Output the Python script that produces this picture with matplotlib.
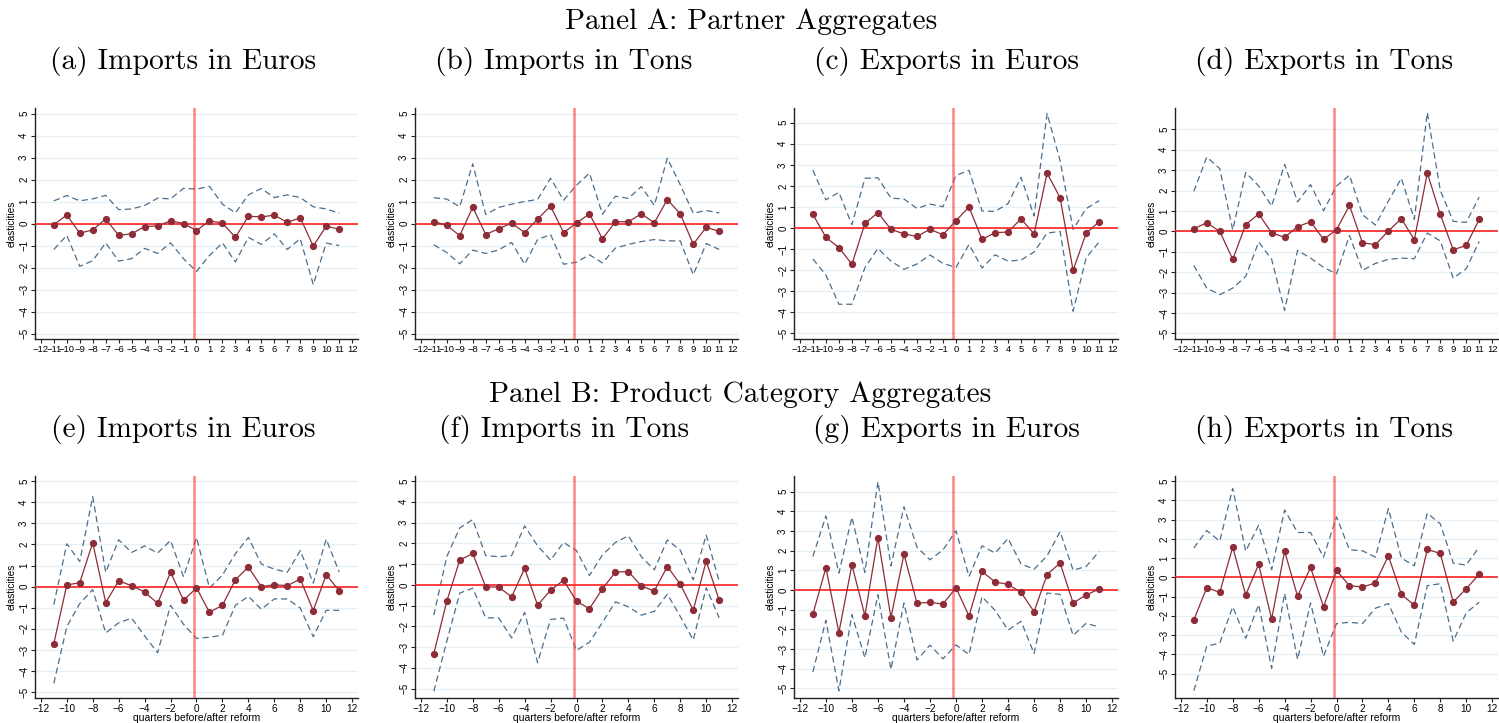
import numpy as np
import matplotlib
matplotlib.use("Agg")
from matplotlib import pyplot as plt

quarters = list(range(-11, 12))

# (a) partner aggregates, imports in euros
a_est = [-0.06, 0.39, -0.44, -0.29, 0.21, -0.54, -0.47, -0.14, -0.11, 0.12, 0.00, -0.32,
         0.12, 0.02, -0.63, 0.33, 0.30, 0.38, 0.05, 0.26, -1.03, -0.12, -0.26]
a_hi = [1.03, 1.27, 1.03, 1.12, 1.28, 0.63, 0.66, 0.82, 1.15, 1.12, 1.60, 1.56,
        1.69, 0.88, 0.48, 1.30, 1.59, 1.18, 1.30, 1.18, 0.76, 0.66, 0.47]
a_lo = [-1.18, -0.54, -1.95, -1.69, -0.88, -1.71, -1.60, -1.13, -1.36, -0.88, -1.60, -2.18,
        -1.45, -0.88, -1.75, -0.63, -0.95, -0.47, -1.18, -0.69, -2.78, -0.89, -1.00]

# (b) imports in tons
b_est = [0.09, -0.09, -0.55, 0.74, -0.50, -0.24, 0.02, -0.41, 0.20, 0.79, -0.41, 0.02,
         0.44, -0.70, 0.08, 0.08, 0.44, 0.03, 1.09, 0.44, -0.94, -0.17, -0.36]
b_hi = [1.17, 1.11, 0.76, 2.71, 0.41, 0.73, 0.88, 1.00, 1.09, 2.06, 1.06, 1.74,
        2.29, 0.42, 1.24, 1.14, 1.68, 0.82, 2.97, 1.76, 0.47, 0.59, 0.48]
b_lo = [-0.97, -1.32, -1.83, -1.21, -1.36, -1.20, -0.86, -1.85, -0.73, -0.50, -1.85, -1.76,
        -1.42, -1.79, -1.12, -0.95, -0.82, -0.73, -0.79, -0.79, -2.33, -0.91, -1.18]

# (c) exports in euros
c_est = [0.65, -0.44, -0.93, -1.72, 0.22, 0.73, -0.06, -0.28, -0.40, -0.06, -0.32, 0.35,
         1.00, -0.54, -0.22, -0.19, 0.44, -0.28, 2.61, 1.44, -2.01, -0.25, 0.30]
c_hi = [2.75, 1.34, 1.69, 0.16, 2.36, 2.39, 1.42, 1.38, 0.93, 1.14, 1.01, 2.50,
        2.74, 0.81, 0.79, 1.16, 2.41, 0.57, 5.44, 3.20, -0.06, 0.92, 1.30]
c_lo = [-1.47, -2.23, -3.62, -3.62, -1.88, -0.97, -1.57, -1.96, -1.71, -1.28, -1.68, -1.87,
        -0.78, -1.90, -1.27, -1.57, -1.52, -1.14, -0.24, -0.16, -3.95, -1.42, -0.66]

# (d) exports in tons
d_est = [0.13, 0.42, 0.00, -1.37, 0.33, 0.85, -0.07, -0.29, 0.23, 0.47, -0.39, 0.08,
         1.27, -0.56, -0.65, 0.02, 0.62, -0.41, 2.86, 0.83, -0.90, -0.69, 0.59]
d_hi = [1.96, 3.64, 3.07, 0.07, 2.88, 2.22, 1.24, 3.28, 1.44, 2.29, 1.01, 2.22,
        2.75, 0.82, 0.31, 1.49, 2.60, 0.59, 5.82, 2.01, 0.49, 0.44, 1.68]
d_lo = [-1.67, -2.78, -3.10, -2.78, -2.21, -0.52, -1.37, -3.87, -0.93, -1.31, -1.76, -2.08,
        -0.20, -1.91, -1.57, -1.37, -1.31, -1.34, -0.08, -0.47, -2.29, -1.83, -0.49]

# (e) product category aggregates, imports in euros
e_est = [-2.70, 0.08, 0.19, 2.08, -0.75, 0.27, 0.05, -0.25, -0.79, 0.68, -0.64, -0.06,
         -1.21, -0.88, 0.33, 0.93, 0.00, 0.09, 0.05, 0.36, -1.13, 0.57, -0.19]
e_hi = [-0.85, 2.03, 1.19, 4.26, 0.68, 2.22, 1.62, 1.93, 1.59, 2.19, 0.47, 2.33,
        -0.06, 0.55, 1.56, 2.33, 1.07, 0.83, 0.68, 1.71, 0.17, 2.25, 0.69]
e_lo = [-4.58, -1.90, -0.80, -0.14, -2.19, -1.71, -1.49, -2.33, -3.13, -0.88, -1.78, -2.45,
        -2.39, -2.30, -0.88, -0.46, -1.07, -0.58, -0.58, -1.01, -2.37, -1.12, -1.12]

# (f) imports in tons
f_est = [-3.32, -0.79, 1.19, 1.51, -0.10, -0.11, -0.58, 0.79, -0.98, -0.26, 0.22, -0.79,
         -1.15, -0.19, 0.61, 0.64, -0.06, -0.29, 0.88, 0.03, -1.22, 1.14, -0.74]
f_hi = [-1.46, 1.36, 2.74, 3.14, 1.41, 1.35, 1.41, 2.84, 1.88, 1.19, 2.04, 1.65,
        0.45, 1.44, 2.04, 2.36, 1.35, 0.72, 2.16, 1.67, 0.24, 2.40, 0.16]
f_lo = [-5.13, -2.72, -0.40, -0.16, -1.59, -1.59, -2.56, -1.33, -3.75, -1.67, -1.60, -3.16,
        -2.76, -1.81, -0.82, -1.06, -1.46, -1.28, -0.45, -1.52, -2.66, -0.14, -1.59]

# (g) exports in euros
g_est = [-1.23, 1.13, -2.16, 1.28, -1.30, 2.67, -1.40, 1.82, -0.66, -0.63, -0.71, 0.12,
         -1.32, 0.95, 0.41, 0.29, -0.12, -1.10, 0.79, 1.37, -0.66, -0.25, 0.05]
g_hi = [1.71, 3.77, 0.86, 3.70, 0.90, 5.51, 1.23, 4.24, 2.18, 1.54, 2.04, 3.01,
        0.69, 2.25, 1.88, 2.62, 1.33, 1.06, 1.74, 2.97, 1.01, 1.20, 1.96]
g_lo = [-4.17, -1.54, -5.12, -1.25, -3.45, -0.24, -4.04, -0.66, -3.56, -2.80, -3.50, -2.79,
        -3.28, -0.34, -1.03, -2.04, -1.59, -3.23, -0.15, -0.22, -2.31, -1.69, -1.88]

# (h) exports in tons
h_est = [-2.21, -0.53, -0.78, 1.57, -0.91, 0.67, -2.17, 1.36, -0.98, 0.52, -1.53, 0.36,
         -0.43, -0.50, -0.29, 1.12, -0.88, -1.45, 1.45, 1.24, -1.28, -0.59, 0.16]
h_hi = [1.52, 2.43, 1.88, 4.62, 1.36, 2.71, 0.40, 3.50, 2.33, 2.33, 1.05, 3.14,
        1.43, 1.38, 1.05, 3.57, 1.00, 0.60, 3.33, 2.78, 0.74, 0.64, 1.57]
h_lo = [-5.88, -3.57, -3.41, -1.53, -3.16, -1.41, -4.72, -0.83, -4.26, -1.33, -4.09, -2.40,
        -2.33, -2.40, -1.60, -1.36, -2.84, -3.48, -0.43, -0.33, -3.31, -1.84, -1.29]

titles = ['(a) Imports in Euros', '(b) Imports in Tons', '(c) Exports in Euros', '(d) Exports in Tons',
          '(e) Imports in Euros', '(f) Imports in Tons', '(g) Exports in Euros', '(h) Exports in Tons']
panels = [(a_est, a_lo, a_hi), (b_est, b_lo, b_hi), (c_est, c_lo, c_hi), (d_est, d_lo, d_hi),
          (e_est, e_lo, e_hi), (f_est, f_lo, f_hi), (g_est, g_lo, g_hi), (h_est, h_lo, h_hi)]
ylims = [(-5.25, 5.25), (-5.25, 5.25), (-5.27, 5.7), (-5.27, 6.04),
         (-5.27, 5.24), (-5.45, 5.24), (-5.49, 5.8), (-6.26, 5.26)]

W, H = 1499, 723
fig = plt.figure(figsize=(W / 100, H / 100), dpi=100)

lefts = [35, 415, 794, 1175]
widths = [323, 323, 324, 323]
rows = [(108, 339), (476, 698)]
title_x = [183, 564, 946, 1324]

est_color = '#8e2c38'
ci_color = '#4b6e8c'
grid_color = '#e6eff1'
tick_font = 'Liberation Sans'

for i, (est, lo, hi) in enumerate(panels):
    r, c = divmod(i, 4)
    top, bot = rows[r]
    ax = fig.add_axes([lefts[c] / W, 1 - bot / H, widths[c] / W, (bot - top) / H])
    ax.set_xlim(-12.45, 12.45)
    ax.set_ylim(*ylims[i])
    for yv in range(-5, 6):
        ax.axhline(yv, color=grid_color, lw=0.9, zorder=0)
    ax.plot(quarters, hi, color=ci_color, lw=0.9, dashes=(5, 3), zorder=2)
    ax.plot(quarters, lo, color=ci_color, lw=0.9, dashes=(5, 3), zorder=2)
    ax.axhline(0, color='#ff1a1a', lw=1.3, alpha=0.9, zorder=3)
    ax.axvline(-0.2, color='#ff3030', lw=1.8, alpha=0.6, zorder=3)
    ax.plot(quarters, est, color=est_color, lw=0.9, marker='o', ms=4.2, zorder=4)

    ax.spines['top'].set_visible(False)
    ax.spines['right'].set_visible(False)
    for s in ['left', 'bottom']:
        ax.spines[s].set_linewidth(1.0)
        ax.spines[s].set_color('#222222')
    ax.set_yticks(range(-5, 6))
    ax.set_yticklabels([str(v).replace('-', '\u2212') for v in range(-5, 6)],
                       rotation=90, va='center', fontsize=7, family=tick_font)
    if r == 0:
        xt = list(range(-12, 13))
        xfs = 6.8
    else:
        xt = list(range(-12, 13, 2))
        xfs = 7.2
    ax.set_xticks(xt)
    ax.set_xticklabels([str(v).replace('-', '\u2212') for v in xt], fontsize=xfs, family=tick_font)
    ax.tick_params(length=3, width=0.8, pad=1.2, color='#222222')
    ax.set_ylabel('elasticities', fontsize=7.2, family=tick_font, labelpad=2)
    if r == 1:
        ax.set_xlabel('quarters before/after reform', fontsize=7.5, family=tick_font, labelpad=-0.5)

    fig.text(title_x[c] / W, 1 - (62 if r == 0 else 430) / H, titles[i],
             ha='center', va='center', fontsize=21.2, family='cmr10')

fig.text(751 / W, 1 - 22 / H, 'Panel A: Partner Aggregates', ha='center', va='center',
         fontsize=21.2, family='cmr10')
fig.text(740 / W, 1 - 395 / H, 'Panel B: Product Category Aggregates', ha='center', va='center',
         fontsize=21.2, family='cmr10')

fig.savefig('out.png', dpi=100)
